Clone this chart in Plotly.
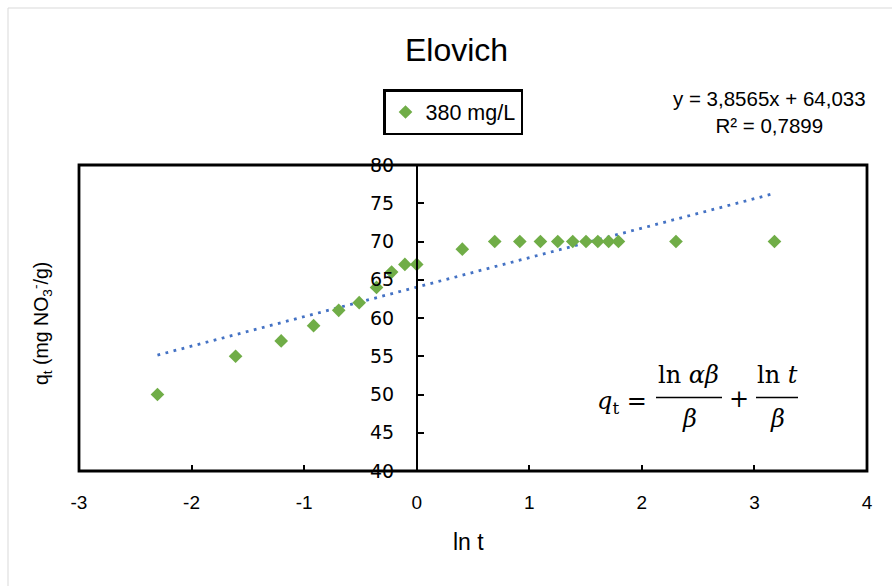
import plotly.graph_objects as go

# ---- data ----
ln_t = [-2.303, -1.609, -1.204, -0.916, -0.693, -0.511, -0.357, -0.223, -0.105, 0.0,
        0.405, 0.693, 0.916, 1.099, 1.253, 1.386, 1.504, 1.609, 1.705, 1.792, 2.303, 3.178]
q_t = [50, 55, 57, 59, 61, 62, 64, 66, 67, 67,
       69, 70, 70, 70, 70, 70, 70, 70, 70, 70, 70, 70]
series_name = "380 mg/L"
slope = 3.8565
intercept = 64.033
r2_text = "0,7899"
x_ticks = [-3, -2, -1, 0, 1, 2, 3, 4]
y_ticks = [40, 45, 50, 55, 60, 65, 70, 75, 80]

trend_x = [min(ln_t), max(ln_t)]
trend_y = [slope * v + intercept for v in trend_x]

# ---- layout geometry (pixels) ----
W, H = 892, 586
L, R, T, B = 79, 867, 165, 471
pw, ph = R - L, B - T


def px(x):
    return (x - L) / pw


def py(y):
    return (B - y) / ph


fig = go.Figure()
fig.add_trace(go.Scatter(
    x=trend_x, y=trend_y, mode="lines", showlegend=False, hoverinfo="skip",
    line=dict(color="#4472C4", width=2.8, dash="2.8px,5.5px")))
fig.add_trace(go.Scatter(
    x=ln_t, y=q_t, mode="markers", name=series_name,
    marker=dict(symbol="diamond", size=10.5, color="#70AD47")))

shapes = [
    dict(type="rect", xref="paper", yref="paper", x0=0, x1=1, y0=0, y1=1,
         line=dict(color="black", width=2.8), fillcolor="rgba(0,0,0,0)", layer="above"),
    dict(type="rect", xref="paper", yref="paper", x0=px(8), x1=px(905), y0=py(600), y1=py(8),
         line=dict(color="#d9d9d9", width=1), fillcolor="rgba(0,0,0,0)"),
    # fraction bars
    dict(type="line", xref="paper", yref="paper", x0=px(656), x1=px(722), y0=py(397.5), y1=py(397.5),
         line=dict(color="black", width=1.5)),
    dict(type="line", xref="paper", yref="paper", x0=px(756), x1=px(798), y0=py(397.5), y1=py(397.5),
         line=dict(color="black", width=1.5)),
]

serif = "DejaVu Serif"
math_font = dict(family=serif, size=24, color="black")


def ann(x, y, text, font, **kw):
    d = dict(xref="paper", yref="paper", x=px(x), y=py(y), text=text, showarrow=False,
             font=font, xanchor="center", yanchor="middle")
    d.update(kw)
    return d


annotations = [
    ann(456, 50, "Elovich", dict(family="Liberation Sans", size=32, color="black")),
    ann(769, 112, f"y = {str(slope).replace('.', ',')}x + {str(intercept).replace('.', ',')}<br>R² = {r2_text}",
        dict(family="Liberation Sans", size=20.5, color="black"), align="center"),
    ann(468, 542, "ln t", dict(family="Liberation Sans", size=23, color="black")),
    ann(41, 324, "q<sub>t</sub> (mg NO<sub>3</sub><sup>-</sup>/g)",
        dict(family="Liberation Sans", size=19.5, color="black"), textangle=-90),
    ann(622, 402, "<i>q</i><sub>t</sub> =", math_font),
    ann(688, 375, "ln <i>αβ</i>", math_font),
    ann(689, 419, "<i>β</i>", math_font),
    ann(739, 399, "+", math_font),
    ann(777, 375, "ln <i>t</i>", math_font),
    ann(777, 419, "<i>β</i>", math_font),
]

fig.update_layout(
    width=W, height=H,
    margin=dict(l=L, r=W - R, t=T, b=H - B, pad=0, autoexpand=False),
    paper_bgcolor="white", plot_bgcolor="white",
    showlegend=True,
    legend=dict(x=px(383), y=py(89), xanchor="left", yanchor="top",
                bordercolor="black", borderwidth=2.5, bgcolor="white",
                font=dict(family="Liberation Sans", size=21.5, color="black"),
                itemwidth=30, tracegroupgap=0),
    shapes=shapes, annotations=annotations,
    xaxis=dict(range=[-3, 4], tickvals=x_ticks, ticktext=[str(v) for v in x_ticks],
               showgrid=False, zeroline=False, showline=False,
               ticks="inside", ticklen=6, tickwidth=1.5, tickcolor="black",
               ticklabelstandoff=18,
               tickfont=dict(family="Liberation Sans", size=19, color="black")),
    yaxis=dict(range=[40, 80], tickvals=y_ticks, anchor="free", position=3 / 7,
               showgrid=False, zeroline=False, showline=True, linecolor="black", linewidth=1.6,
               ticks="inside", ticklen=6, tickwidth=1.5, tickcolor="black",
               ticklabelstandoff=18,
               tickfont=dict(family="DejaVu Sans", size=19, color="black")),
)

fig.write_html("out.html", config={"displayModeBar": False},
               post_script="document.body.style.margin='0';document.body.style.overflow='hidden';")
